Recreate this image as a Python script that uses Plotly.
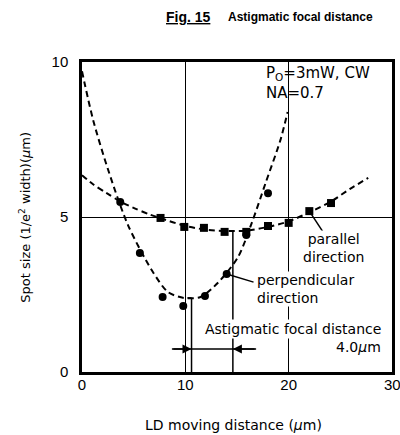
import plotly.graph_objects as go

# Measured data (LD moving distance in um, spot size in um)
perp_x = [3.7, 5.6, 7.8, 9.8, 11.9, 14.0, 15.9, 18.0]
perp_y = [5.48, 3.84, 2.42, 2.13, 2.45, 3.16, 4.42, 5.77]
para_x = [7.6, 9.9, 11.8, 13.8, 15.9, 18.0, 20.0, 22.0, 24.1]
para_y = [4.97, 4.68, 4.65, 4.52, 4.52, 4.71, 4.81, 5.19, 5.45]

# Dashed fitted curves
perp_fit_x = [0, 1.1, 2.6, 4.45, 6.74, 8.32, 9.85, 11.47, 13.13, 15.1, 16.43, 17.77, 19.2, 19.9]
perp_fit_y = [9.7, 8.1, 6.45, 4.74, 3.29, 2.58, 2.39, 2.42, 2.87, 3.71, 4.81, 6.1, 7.48, 8.39]
para_fit_x = [0, 1.1, 2.35, 3.7, 5.15, 6.4, 7.6, 9.9, 11.8, 13.8, 15.9, 18.0, 20.0, 22.0, 24.1, 25.9, 27.7]
para_fit_y = [6.35, 6.05, 5.78, 5.5, 5.27, 5.1, 4.96, 4.72, 4.6, 4.55, 4.56, 4.68, 4.86, 5.15, 5.5, 5.9, 6.26]

# Focus positions (astigmatic focal distance markers)
perp_focus = [10.6, 2.39]
para_focus = [14.6, 4.55]
arrow_y = 0.74
arrow_span = [8.7, 16.85]

x_ticks = [0, 10, 20, 30]
y_ticks = [0, 5, 10]

FONT = "Liberation Sans, Arial, sans-serif"
WFONT = "DejaVu Sans, Verdana, sans-serif"

fig = go.Figure()
fig.add_trace(go.Scatter(x=perp_fit_x, y=perp_fit_y, mode="lines",
                         line=dict(color="black", width=2, dash="6px,4px", shape="spline", smoothing=0.8),
                         hoverinfo="skip", showlegend=False))
fig.add_trace(go.Scatter(x=para_fit_x, y=para_fit_y, mode="lines",
                         line=dict(color="black", width=2, dash="6px,4px", shape="spline", smoothing=0.8),
                         hoverinfo="skip", showlegend=False))
fig.add_trace(go.Scatter(x=perp_x, y=perp_y, mode="markers",
                         marker=dict(symbol="circle", size=8, color="black"), showlegend=False))
fig.add_trace(go.Scatter(x=para_x, y=para_y, mode="markers",
                         marker=dict(symbol="square", size=8, color="black"), showlegend=False))

shapes = []
line_style = dict(color="black", width=1.5)
shapes.append(dict(type="line", xref="x", yref="y", x0=perp_focus[0], x1=perp_focus[0],
                   y0=0, y1=perp_focus[1], line=line_style, layer="above"))
shapes.append(dict(type="line", xref="x", yref="y", x0=perp_focus[0] - 0.4, x1=perp_focus[0],
                   y0=perp_focus[1], y1=perp_focus[1], line=line_style, layer="above"))
shapes.append(dict(type="line", xref="x", yref="y", x0=para_focus[0], x1=para_focus[0],
                   y0=0, y1=para_focus[1], line=line_style, layer="above"))
shapes.append(dict(type="line", xref="x", yref="y", x0=arrow_span[0], x1=arrow_span[1],
                   y0=arrow_y, y1=arrow_y, line=line_style, layer="above"))
shapes.append(dict(type="line", xref="x", yref="y", x0=para_x[7], y0=para_y[7], x1=23.4, y1=4.48,
                   line=line_style, layer="above"))
shapes.append(dict(type="line", xref="x", yref="y", x0=perp_x[5], y0=perp_y[5], x1=16.6, y1=2.9,
                   line=line_style, layer="above"))

ann = []
txt = dict(family=WFONT, size=14, color="black")
ann.append(dict(x=perp_focus[0], y=arrow_y, ax=arrow_span[0], ay=arrow_y, xref="x", yref="y",
                axref="x", ayref="y", text="", showarrow=True, arrowhead=2, arrowsize=1.2,
                arrowwidth=1.5, arrowcolor="black"))
ann.append(dict(x=para_focus[0], y=arrow_y, ax=arrow_span[1], ay=arrow_y, xref="x", yref="y",
                axref="x", ayref="y", text="", showarrow=True, arrowhead=2, arrowsize=1.2,
                arrowwidth=1.5, arrowcolor="black"))
ann.append(dict(x=17.6, y=10.0, xref="x", yref="y", xanchor="left", yanchor="top", align="left",
                text="P<sub>O</sub>=3mW, CW<br>NA=0.7", showarrow=False,
                font=dict(family=WFONT, size=15, color="black")))
ann.append(dict(x=24.3, y=4.0, xref="x", yref="y", xanchor="center", yanchor="middle", align="center",
                text="parallel<br>direction", showarrow=False, font=txt, bgcolor="white", borderpad=0))
ann.append(dict(x=16.8, y=2.68, xref="x", yref="y", xanchor="left", yanchor="middle", align="left",
                text="perpendicular<br>direction", showarrow=False, font=txt, bgcolor="white", borderpad=0))
ann.append(dict(x=29.1, y=1.39, xref="x", yref="y", xanchor="right", yanchor="middle",
                text="Astigmatic focal distance", showarrow=False, font=txt, bgcolor="white", borderpad=1))
ann.append(dict(x=29.1, y=0.8, xref="x", yref="y", xanchor="right", yanchor="middle",
                text="4.0<i>μ</i>m", showarrow=False, font=txt))
# last x tick label (sits at the page edge)
ann.append(dict(x=x_ticks[-1], y=0, xref="x", yref="y", xanchor="center", yanchor="top", yshift=-2,
                text=str(x_ticks[-1]), showarrow=False, font=dict(family=FONT, size=15, color="black")))
# title
ann.append(dict(x=0.345, y=1.145, xref="paper", yref="paper", xanchor="center", yanchor="middle",
                text="<b><u>Fig. 15</u></b>", showarrow=False,
                font=dict(family=FONT, size=14, color="black")))
ann.append(dict(x=0.706, y=1.145, xref="paper", yref="paper", xanchor="center", yanchor="middle",
                text="<b>Astigmatic focal distance</b>", showarrow=False,
                font=dict(family=FONT, size=12, color="black")))
# axis titles
ann.append(dict(x=0.49, y=-0.17, xref="paper", yref="paper", xanchor="center", yanchor="middle",
                text="LD moving distance (<i>μ</i>m)", showarrow=False,
                font=dict(family=WFONT, size=14, color="black")))
ann.append(dict(x=-0.185, y=0.5, xref="paper", yref="paper", xanchor="center", yanchor="middle",
                text="Spot size (1/e<sup>2</sup> width)(<i>μ</i>m)", textangle=-90, showarrow=False,
                font=dict(family=WFONT, size=13, color="black")))

axis_common = dict(showline=True, linecolor="black", linewidth=2.5, mirror=True,
                   showgrid=True, gridcolor="black", gridwidth=1.2, zeroline=False,
                   ticks="", tickfont=dict(family=FONT, size=15, color="black"))

fig.update_layout(
    width=400, height=435,
    margin=dict(l=82, r=5, t=62, b=63),
    paper_bgcolor="white", plot_bgcolor="white",
    xaxis=dict(range=[0, 30], tickvals=x_ticks[:-1], ticktext=[str(v) for v in x_ticks[:-1]],
               ticklabelstandoff=-3, **axis_common),
    yaxis=dict(range=[0, 10], tickvals=y_ticks, ticktext=[str(v) for v in y_ticks],
               ticklabelstandoff=8, **axis_common),
    shapes=shapes, annotations=ann, showlegend=False,
)

fig.write_html("out.html", config={"displayModeBar": False},
               post_script="document.body.style.margin='0';")
